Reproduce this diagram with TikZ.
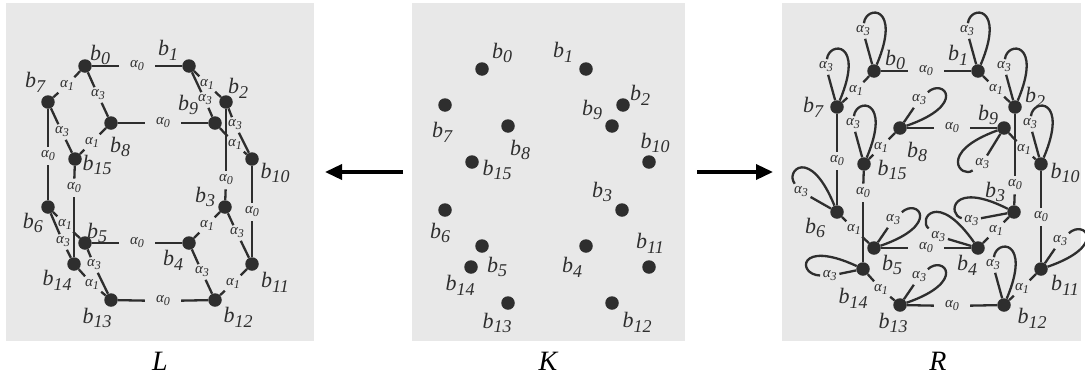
\documentclass[tikz,border=0pt]{standalone}
\usepackage{fontspec}
\setmainfont{Liberation Serif}
\usetikzlibrary{arrows.meta}
\definecolor{bg}{HTML}{E8E8E8}
\definecolor{ink}{HTML}{2E2E2E}
\newcommand\bl[1]{{\fontsize{22}{22}\selectfont\itshape b\raisebox{-4.8pt}{\fontsize{18}{18}\selectfont #1}}}
\newcommand\al[1]{{\fontsize{15}{15}\selectfont\itshape α\raisebox{-3pt}{\fontsize{12}{12}\selectfont #1}}}
% dart nodes of one panel (local coordinates)
\newcommand\darts[1]{%
  \foreach \n/\x/\y in {0/85/66,1/189/66,7/48/102,2/226/102,8/111/123,9/215/123,15/75/159,10/252/159,6/48/207,3/225/207,5/85/243,4/189/243,14/74/264,11/252/264,13/111/300,12/215/300}{\node[dart] (#1\n) at (\x,\y) {};}}
\newcommand\dlabels[2]{%
  \foreach \n/\x/\y in {#2}{\node[dlab] (#1t\n) at (\x,\y) {\bl{\n}};}}
% link between two darts with a label
\newcommand\glink[7]{%
  \node[#7] (#1l#2x#3) at (#4,#5) {\al{#6}};
  \draw[link] (#1#2) -- (#1l#2x#3);
  \draw[link] (#1l#2x#3) -- (#1#3);}
% alpha_3 loop: prefix, dart, x, y, angle, label x, label y
\newcommand\rloop[7]{%
  \begin{scope}[shift={(#3,#4)}, rotate=#5]
    \node[lab] (#1q#2) at (#6,#7) {\al{3}};
  \end{scope}
  \draw[link] (#1#2) -- (#1q#2);
  \begin{scope}[shift={(#3,#4)}, rotate=#5]
    \draw[link] (#1q#2) .. controls (-8,-66) and (28,-66) .. (#1#2);
  \end{scope}}
\newcommand\zerolinks[1]{%
  \glink{#1}{0}{1}{137}{66}{0}{lab0}
  \glink{#1}{8}{9}{163}{123}{0}{lab0}
  \glink{#1}{5}{4}{137}{243}{0}{lab0}
  \glink{#1}{13}{12}{163}{301}{0}{lab0}
  \glink{#1}{7}{6}{48}{156}{0}{lab0}
  \glink{#1}{15}{14}{74}{188}{0}{lab0}
  \glink{#1}{2}{3}{226}{180}{0}{lab0}
  \glink{#1}{10}{11}{252}{212}{0}{lab0}}
\newcommand\onelinks[1]{%
  \glink{#1}{0}{7}{67}{85}{1}{lab}
  \glink{#1}{1}{2}{207}{84}{1}{lab}
  \glink{#1}{8}{15}{92}{142}{1}{lab}
  \glink{#1}{9}{10}{235}{144}{1}{lab}
  \glink{#1}{6}{5}{65}{224}{1}{lab}
  \glink{#1}{3}{4}{207}{225}{1}{lab}
  \glink{#1}{14}{13}{92}{284}{1}{lab}
  \glink{#1}{11}{12}{233}{283}{1}{lab}}
\begin{document}
\begin{tikzpicture}[x=1pt,y=-1pt,
  dart/.style={circle, fill=ink, minimum size=13.5pt, inner sep=0pt},
  link/.style={draw=ink, line width=2.3pt},
  lab0/.style={inner xsep=11pt, inner ysep=4pt, text=ink},
  lab/.style={inner sep=2.5pt, text=ink},
  dlab/.style={inner sep=0pt, text=ink},
  captext/.style={inner sep=0pt, font=\fontsize{28}{28}\selectfont\itshape},
  arr/.style={line width=3.5pt, -{Triangle[length=17pt,width=15pt]}}]
\useasboundingbox (0,0) rectangle (1085,378);
\fill[bg] (6,3) rectangle (314,341);
\fill[bg] (412,3) rectangle (685,341);
\fill[bg] (782,3) rectangle (1081,341);
% ---------- L ----------
\begin{scope}
  \darts{L}
  \dlabels{L}{0/100/55,1/168/50,7/35/82,2/238/88,9/188/105,8/120/147,15/97/165,10/275/173,6/33/223,3/205/197,5/97/233,4/173/260,14/57/280,11/275/282,13/97/318,12/238/317}
  \zerolinks{L}
  \onelinks{L}
  \glink{L}{0}{8}{98}{95}{3}{lab}
  \glink{L}{7}{15}{62}{132}{3}{lab}
  \glink{L}{1}{9}{205}{100}{3}{lab}
  \glink{L}{2}{10}{235}{125}{3}{lab}
  \glink{L}{6}{14}{63}{242}{3}{lab}
  \glink{L}{5}{13}{94}{265}{3}{lab}
  \glink{L}{3}{11}{237}{233}{3}{lab}
  \glink{L}{4}{12}{202}{272}{3}{lab}
\end{scope}
% ---------- K ----------
\begin{scope}[shift={(397,3)}]
  \darts{K}
  \dlabels{K}{0/105/50,1/166/49,7/45/129,2/243/92,9/195/107,8/123/147,15/100/167,10/258/140,6/43/230,3/205/189,5/100/264,4/175/264,14/63/282,11/253/240,13/100/320,12/240/319}
\end{scope}
% ---------- R ----------
\begin{scope}[shift={(789,5)}]
  \darts{R}
  \dlabels{R}{0/106/55,1/169/50,7/24/102,2/246/92,9/199/110,8/128/147,15/103/165,10/276/168,6/26/223,3/206/187,5/103/260,4/178/260,14/64/293,11/276/280,13/104/318,12/243/313}
  \zerolinks{R}
  \onelinks{R}
  \rloop{R}{0}{85}{66}{0}{-11}{-40}
  \rloop{R}{1}{189}{66}{0}{-11}{-40}
  \rloop{R}{7}{48}{102}{0}{-11}{-40}
  \rloop{R}{2}{226}{102}{0}{-11}{-40}
  \rloop{R}{15}{75}{159}{0}{-11}{-40}
  \rloop{R}{10}{252}{159}{0}{-11}{-40}
  \rloop{R}{12}{215}{300}{0}{-11}{-40}
  \rloop{R}{8}{111}{123}{-48}{-8}{-33}
  \rloop{R}{13}{111}{300}{-48}{-8}{-33}
  \rloop{R}{5}{85}{243}{-48}{-8}{-33}
  \rloop{R}{11}{252}{264}{-48}{-8}{-33}
  \rloop{R}{9}{215}{123}{133}{-11}{-40}
  \rloop{R}{6}{48}{207}{45}{-11}{-40}
  \rloop{R}{14}{74}{264}{88}{-8}{-33}
  \rloop{R}{3}{225}{207}{86}{-11}{-42}
  \rloop{R}{4}{189}{243}{58}{-11}{-40}
\end{scope}
% ---------- arrows and captions ----------
\coordinate (a1s) at (403,172);
\coordinate (a1e) at (325,172);
\coordinate (a2s) at (697,172);
\coordinate (a2e) at (773,172);
\draw[arr] (a1s) -- (a1e);
\draw[arr] (a2s) -- (a2e);
\node[captext] (capL) at (160,361) {L};
\node[captext] (capK) at (548,361) {K};
\node[captext] (capR) at (938,361) {R};
\end{tikzpicture}
\end{document}
